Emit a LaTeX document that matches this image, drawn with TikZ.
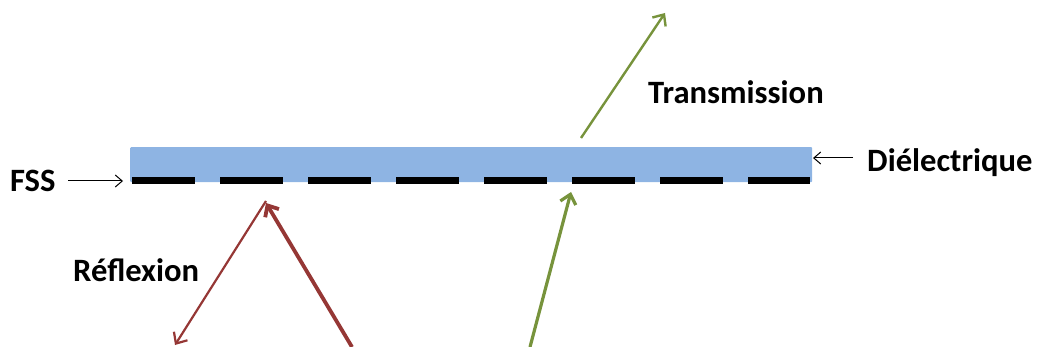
\documentclass[tikz,border=0pt]{standalone}
\usepackage{fontspec}
\setmainfont{Carlito}
\usetikzlibrary{arrows.meta}
\definecolor{dred}{HTML}{953735}
\definecolor{dgreen}{HTML}{77933C}
\definecolor{lblue}{HTML}{8EB4E3}
\tikzset{
  lbl/.style={font=\fontsize{32.6}{38}\selectfont\bfseries, inner sep=0pt},
  thinarr/.style={-{Straight Barb[length=7pt,width=12pt]}, line width=1pt, black},
  redarr/.style={-{Straight Barb[length=9pt,width=16pt]}, dred},
  greenarr/.style={-{Straight Barb[length=9pt,width=16pt]}, dgreen},
}
\begin{document}
\begin{tikzpicture}[x=1pt,y=-1pt]
\useasboundingbox (0,0) rectangle (1040,347);
% dielectric slab
\node[fill=lblue, minimum width=682pt, minimum height=35pt, inner sep=0pt, rounded corners=1pt, anchor=north west] (slab) at (130,147) {};
% FSS dashes
\coordinate (d1) at (132,180.5);
\coordinate (d2) at (810,180.5);
\draw[line width=7pt, dash pattern=on 63pt off 25pt] (d1) -- (d2);
% labels
\node[lbl, anchor=west] (fss) at (10,181) {FSS};
\node[lbl, anchor=west] (diel) at (867,163) {Diélectrique};
\node[lbl, anchor=west] (trans) at (648,92) {Transmission};
\node[lbl, anchor=west] (refl) at (73,270) {Réflexion};
% pointer arrows
\coordinate (fssa) at (68,181);
\coordinate (fssb) at (123,181);
\draw[thinarr] (fssa) -- (fssb);
\coordinate (diea) at (853,158);
\coordinate (dieb) at (813,158);
\draw[thinarr] (diea) -- (dieb);
% reflection
\coordinate (rin) at (352,347);
\coordinate (rtip) at (266,203);
\coordinate (rout) at (175,345);
\draw[redarr, line width=3.8pt] (rin) -- (rtip);
\draw[redarr, line width=2.2pt] ([yshift=2pt]rtip) -- (rout);
% transmission
\coordinate (gin) at (530,347);
\coordinate (gtip) at (571,192);
\draw[greenarr, line width=3.2pt] (gin) -- (gtip);
\coordinate (gs) at (581,138);
\coordinate (ge) at (665,13);
\draw[greenarr, line width=2.4pt] (gs) -- (ge);
\end{tikzpicture}
\end{document}
